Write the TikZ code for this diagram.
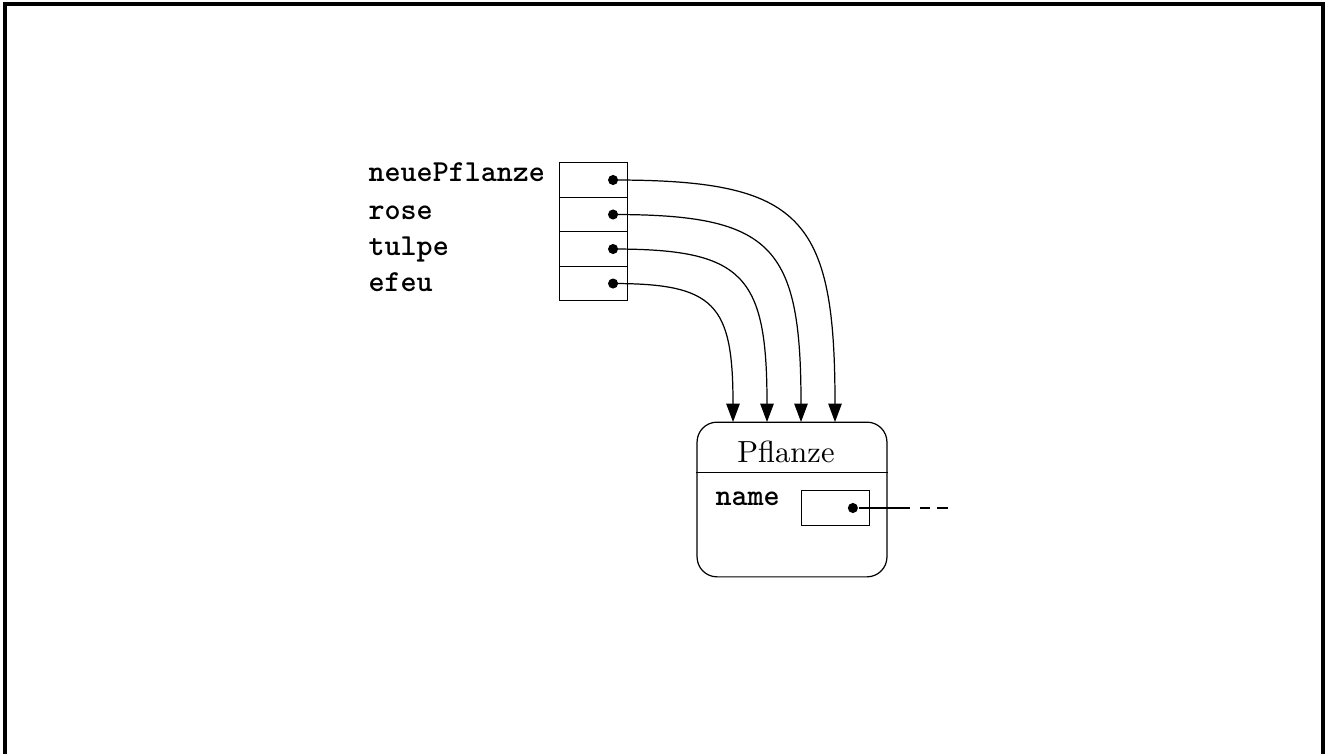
\documentclass[tikz,border=0pt]{standalone}
\usepackage{tikz}
\usetikzlibrary{positioning, arrows.meta, calc}
\tikzset{
  ptr/.style={-{Triangle[length=6pt,width=4.4pt]}, draw=black},
  cell/.style={draw, minimum width=0.79cm, minimum height=0.397cm, inner sep=0pt, outer sep=0pt},
  dot/.style={circle, fill=black, inner sep=0pt, minimum size=3.3pt},
  var/.style={font=\ttfamily\bfseries, inner sep=0pt, anchor=base west}
}
\begin{document}
\begin{tikzpicture}[x=0.0115cm, y=-0.0115cm]
\useasboundingbox (0,0) rectangle (1328,753);
\draw[line width=1pt] (5,760) -- (5,4) -- (1323,4) -- (1323,760);
% variables
\node[var] (v1) at (368,182) {neuePflanze};
\node[var] (v2) at (368,219) {rose};
\node[var] (v3) at (368,255) {tulpe};
\node[var] (v4) at (368,291) {efeu};
\node[cell] (c1) at (593.5,180) {};
\node[cell, below=0pt of c1] (c2) {};
\node[cell, below=0pt of c2] (c3) {};
\node[cell, below=0pt of c3] (c4) {};
\foreach \i in {1,...,4}
  \node[dot] (d\i) at ([xshift=-0.17cm]c\i.east) {};
% object
\node[draw, rounded corners=0.23cm, minimum width=2.185cm, minimum height=1.78cm,
  inner sep=0pt] (pfl) at (792,499.5) {};
\draw ([yshift=-0.5865cm]pfl.north west) -- ([yshift=-0.5865cm]pfl.north east);
\node[font=\rmfamily] (ttl) at (786,452) {Pflanze};
\node[var] (nm) at (715,505) {name};
\node[cell] (nb) at (835.5,508) {};
\node[dot] (nd) at ([xshift=-0.195cm]nb.east) {};
\coordinate (p1) at (910,508);
\coordinate (q1) at (920,508);
\coordinate (q2) at (948,508);
\draw (nd) -- (p1);
\draw[dash pattern=on 3.3pt off 2.4pt] (q1) -- (q2);
% pointers
\coordinate (e1) at (835,422);
\coordinate (e2) at (801,422);
\coordinate (e3) at (767,422);
\coordinate (e4) at (733,422);
\foreach \i in {1,...,4}
  \draw[ptr] (d\i.center) .. controls ($(d\i.center)!.85!(d\i.center-|e\i)$)
    and ($(e\i)!.85!(d\i.center-|e\i)$) .. (e\i);
\end{tikzpicture}
\end{document}
